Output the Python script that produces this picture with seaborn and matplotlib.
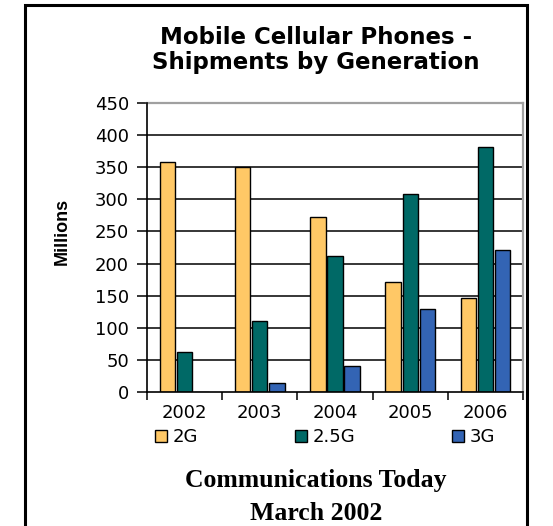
import matplotlib
matplotlib.use("Agg")
import matplotlib.pyplot as plt
from matplotlib.patches import Rectangle
import pandas as pd
import seaborn as sns

# Shipments (millions) by handset generation
years = ["2002", "2003", "2004", "2005", "2006"]
generations = ["2G", "2.5G", "3G"]
ship_2g = [358, 350, 273, 172, 146]
ship_25g = [63, 111, 212, 309, 382]
ship_3g = [0, 14, 40, 130, 221]
y_ticks = [0, 50, 100, 150, 200, 250, 300, 350, 400, 450]

colors = ["#FFC866", "#006966", "#3364B4"]

rows = []
for gen, vals in zip(generations, [ship_2g, ship_25g, ship_3g]):
    for yr, v in zip(years, vals):
        rows.append({"Year": yr, "Generation": gen, "Millions": v})
df = pd.DataFrame(rows)

sns.set_style("white")
plt.rcParams["font.family"] = ["DejaVu Sans"]
plt.rcParams["text.color"] = "black"

W, H = 553, 526
fig = plt.figure(figsize=(W / 100, H / 100), dpi=100)

def fx(px):
    return px / W

def fy(py):
    return 1 - py / H

# outer frame
fig.patches.append(Rectangle((fx(25), fy(540)), fx(527) - fx(25), fy(5) - fy(540),
                             transform=fig.transFigure, fill=False,
                             edgecolor="black", linewidth=2.2, zorder=0))

ax = fig.add_axes([fx(147), fy(392), fx(523) - fx(147), fy(103) - fy(392)])

sns.barplot(data=df, x="Year", y="Millions", hue="Generation",
            hue_order=generations, order=years, palette=colors,
            width=0.68, gap=0.1, edgecolor="black", linewidth=1.0,
            saturation=1, ax=ax, zorder=3, legend=True)

ax.set_ylim(0, 450)
ax.set_xlim(-0.5, 4.5)
ax.set_yticks(y_ticks)
ax.set_yticklabels([str(t) for t in y_ticks], fontsize=13)
for t in y_ticks[1:-1]:
    ax.axhline(t, color="black", linewidth=1.1, zorder=1)

ax.tick_params(axis="y", direction="out", length=7, width=1.1, color="black",
               left=True, pad=6, labelcolor="black")
ax.tick_params(axis="x", which="major", length=0, pad=9, labelsize=13,
               labelcolor="black")
ax.set_xticks([-0.5, 0.5, 1.5, 2.5, 3.5, 4.5], minor=True)
ax.tick_params(axis="x", which="minor", direction="out", length=6, width=1.1,
               color="black", bottom=True)

for side in ["top", "right"]:
    ax.spines[side].set_color("#a0a0a0")
    ax.spines[side].set_linewidth(1.6)
for side in ["left", "bottom"]:
    ax.spines[side].set_color("black")
    ax.spines[side].set_linewidth(1.2)
    ax.spines[side].set_zorder(4)

ax.set_xlabel("")
ax.set_ylabel("")
fig.text(fx(62), fy(231), "Millions", rotation=90, ha="center", va="center",
         fontsize=13, fontweight="bold", family=["Liberation Sans"])

handles, labels = ax.get_legend_handles_labels()
ax.get_legend().remove()
leg = fig.legend(handles, labels, loc="center left",
                 bbox_to_anchor=(fx(155), fy(437)), ncol=3, frameon=False,
                 fontsize=13, handlelength=0.65, handleheight=0.65,
                 handletextpad=0.3, columnspacing=5.4, borderpad=0,
                 borderaxespad=0)
for t in leg.get_texts():
    t.set_color("black")

fig.text(fx(316), fy(38), "Mobile Cellular Phones -", ha="center", va="center",
         fontsize=16.5, fontweight="bold")
fig.text(fx(316), fy(63), "Shipments by Generation", ha="center", va="center",
         fontsize=16.5, fontweight="bold")

fig.text(fx(316), fy(481), "Communications Today", ha="center", va="center",
         fontsize=18.5, fontweight="bold", family=["Liberation Serif"])
fig.text(fx(316), fy(513), "March 2002", ha="center", va="center",
         fontsize=18.5, fontweight="bold", family=["Liberation Serif"])

fig.savefig("out.png", dpi=100)
